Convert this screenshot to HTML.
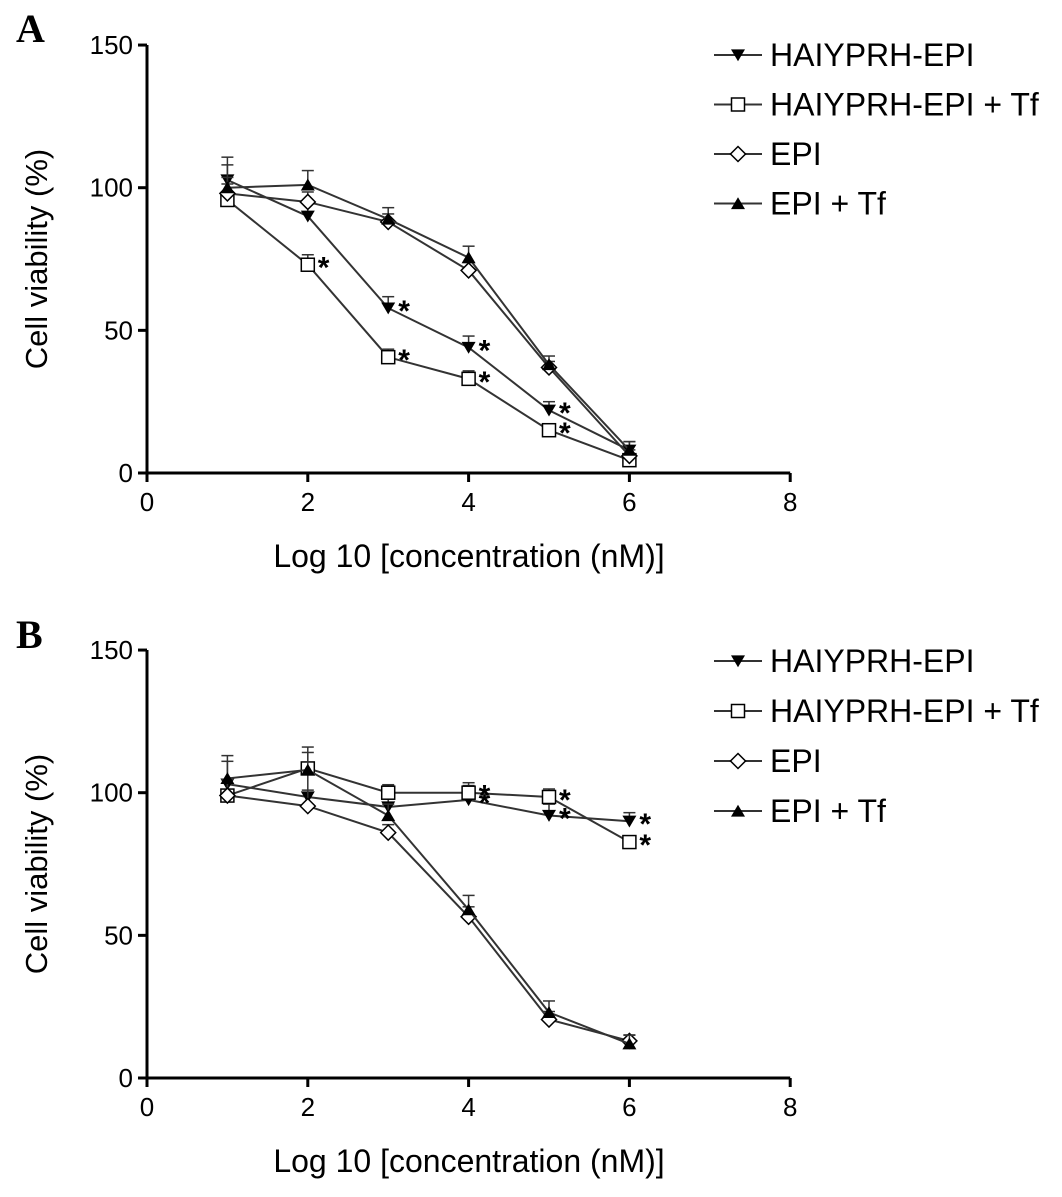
<!DOCTYPE html>
<html><head><meta charset="utf-8"><style>
body{margin:0;background:#fff;}
svg{display:block;font-family:"Liberation Sans",Arial,sans-serif;}
</style></head><body>
<svg id="chart" width="1062" height="1197" viewBox="0 0 1062 1197"></svg>
<script>
const xValues=[1,2,3,4,5,6];
const seriesNames=["HAIYPRH-EPI","HAIYPRH-EPI + Tf","EPI","EPI + Tf"];
const markers=["down","square","diamond","up"];
const xTicks=[0,2,4,6,8];
const yTicks=[0,50,100,150];
// Panel A
const aHaiy=[102.7,90,57.8,44,22,8];
const aHaiyTf=[95.7,73,40.6,33,15,4.5];
const aEpi=[98,95,88,71,37,6];
const aEpiTf=[100,101,89,75.5,38,8];
const aErr=[8,5,4,4,3,3];
const aStarsHaiy=[0,0,1,1,1,0];
const aStarsHaiyTf=[0,1,1,1,1,0];
// Panel B
const bHaiy=[103,98.5,95,97.5,92,90];
const bHaiyTf=[99,108.5,100,100,98.5,82.7];
const bEpi=[99,95.3,86,56.5,20.5,13];
const bEpiTf=[105,108,92,59,23,12];
const bErr=[8,8,4,5,4,3];
const bStarsHaiy=[0,0,0,1,1,1];
const bStarsHaiyTf=[0,0,0,1,1,1];

const NS="http://www.w3.org/2000/svg";
const svg=document.getElementById('chart');
function mk(tag,attrs,parent){const e=document.createElementNS(NS,tag);for(const k in attrs)e.setAttribute(k,attrs[k]);(parent||svg).appendChild(e);return e;}
function marker(g,type,cx,cy){
  const s=7;let e;
  if(type==="down")e=mk('polygon',{points:`${cx-s},${cy-s*0.8} ${cx+s},${cy-s*0.8} ${cx},${cy+s*0.9}`,fill:'#000'},g);
  else if(type==="up")e=mk('polygon',{points:`${cx-s},${cy+s*0.8} ${cx+s},${cy+s*0.8} ${cx},${cy-s*0.9}`,fill:'#000'},g);
  else if(type==="square")e=mk('rect',{x:cx-6.5,y:cy-6.5,width:13,height:13,fill:'#fff',stroke:'#000','stroke-width':1.5},g);
  else e=mk('polygon',{points:`${cx},${cy-7.5} ${cx+7.5},${cy} ${cx},${cy+7.5} ${cx-7.5},${cy}`,fill:'#fff',stroke:'#000','stroke-width':1.5},g);
  
  
}
function panel(letter,letterY,legendY,legendGap,y0,data,err,starsA,starsB){
  const X=v=>147+v*80.4, Y=v=>y0-v*2.853;
  const g=mk('g',{});
  
  
  const L=mk('text',{x:16,y:letterY,'font-family':'Liberation Serif,serif','font-weight':'bold','font-size':40},g);L.textContent=letter;
  
  mk('line',{x1:X(0),y1:Y(0),x2:X(8),y2:Y(0),stroke:'#000','stroke-width':3},g);
  mk('line',{x1:X(0),y1:Y(0)+1.5,x2:X(0),y2:Y(150),stroke:'#000','stroke-width':3},g);
  xTicks.forEach(t=>{mk('line',{x1:X(t),y1:Y(0),x2:X(t),y2:Y(0)+9,stroke:'#000','stroke-width':3},g);
    const tx=mk('text',{x:X(t),y:Y(0)+38,'text-anchor':'middle','font-size':26},g);tx.textContent=t;
    });
  yTicks.forEach(t=>{mk('line',{x1:X(0)-9,y1:Y(t),x2:X(0),y2:Y(t),stroke:'#000','stroke-width':3},g);
    const tx=mk('text',{x:X(0)-14,y:Y(t)+9,'text-anchor':'end','font-size':26},g);tx.textContent=t;
    });
  const yt=mk('text',{x:0,y:0,transform:`translate(47,${Y(75)}) rotate(-90)`,'text-anchor':'middle','font-size':31},g);yt.textContent='Cell viability (%)';
  
  const xt=mk('text',{x:469,y:Y(0)+94,'text-anchor':'middle','font-size':32},g);xt.textContent='Log 10 [concentration (nM)]';
  
  data.forEach((vals,si)=>{
    const sg=mk('g',{},g);
    
    
    mk('polyline',{points:vals.map((v,i)=>X(xValues[i])+','+Y(v)).join(' '),fill:'none',stroke:'#333','stroke-width':2},sg);
    vals.forEach((v,i)=>{const e=err[i]*(si===0||si===3?1:0.7);
      mk('line',{x1:X(xValues[i]),y1:Y(v),x2:X(xValues[i]),y2:Y(v+e),stroke:'#333','stroke-width':1.5},sg);
      mk('line',{x1:X(xValues[i])-6,y1:Y(v+e),x2:X(xValues[i])+6,y2:Y(v+e),stroke:'#333','stroke-width':1.5},sg);});
    vals.forEach((v,i)=>marker(sg,markers[si],X(xValues[i]),Y(v)));
    const st=si===0?starsA:(si===1?starsB:null);
    if(st)st.forEach((s,i)=>{if(s){const a=mk('text',{x:X(xValues[i])+10,y:Y(vals[i])+13,'font-size':30,'font-weight':'bold'},sg);a.textContent='*';
      }});
  });
  seriesNames.forEach((n,i)=>{
    const ly=legendY+i*legendGap;
    const lg=mk('g',{},g);
    
    mk('line',{x1:714,y1:ly,x2:762,y2:ly,stroke:'#333','stroke-width':2},lg);
    marker(lg,markers[i],738,ly);
    const t=mk('text',{x:770,y:ly+11,'font-size':32},lg);t.textContent=n;
  });
}
panel('A',42,55,49.5,473,[aHaiy,aHaiyTf,aEpi,aEpiTf],aErr,aStarsHaiy,aStarsHaiyTf);
panel('B',648,661,50,1078,[bHaiy,bHaiyTf,bEpi,bEpiTf],bErr,bStarsHaiy,bStarsHaiyTf);
</script>
</body></html>
